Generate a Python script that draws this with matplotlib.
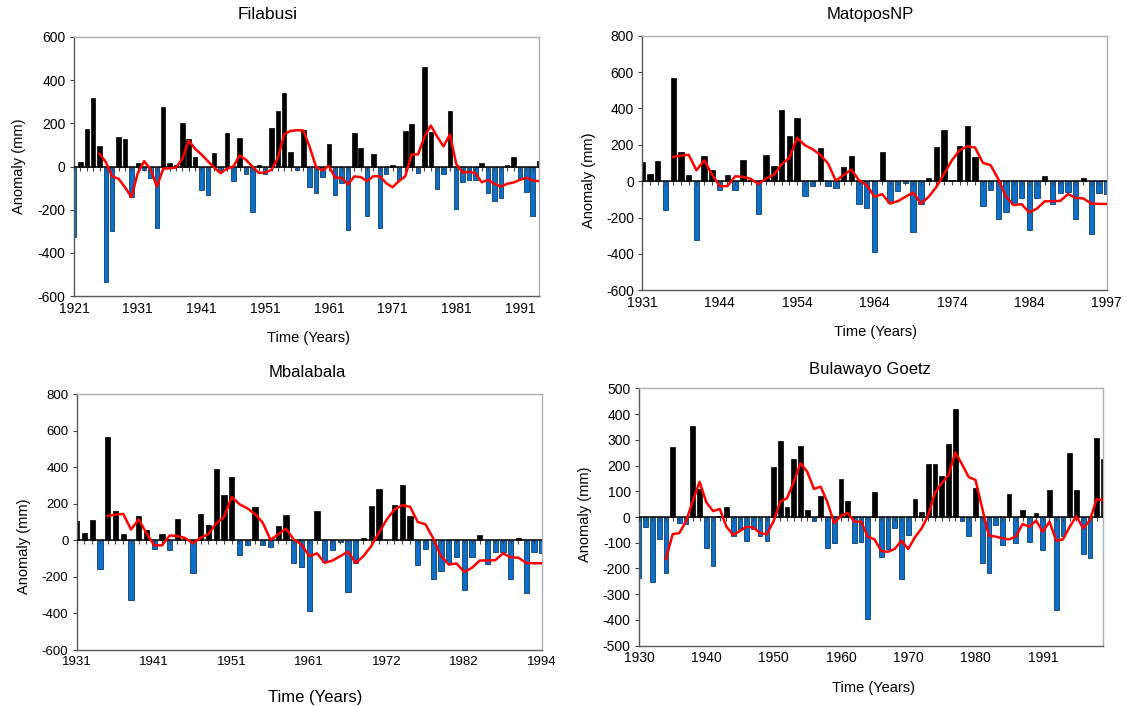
import matplotlib
matplotlib.use("Agg")
import matplotlib.pyplot as plt
import numpy as np

plt.rcParams["font.family"] = ["Liberation Sans", "DejaVu Sans"]
plt.rcParams["axes.unicode_minus"] = False

# ---- Filabusi, 1921-1994 -------------------------------------------------
filabusi_years = list(range(1921, 1995))
filabusi_anom = [
    -327, 22, 174, 318, 93, -536, -298, 137, 128, -139,
    15, -15, -51, -283, 275, 15, 8, 202, 128, 43,
    -110, -131, 63, -20, 153, -68, 133, -36, -210, 8,
    -37, 178, 255, 340, 68, -15, 170, -96, -125, -49,
    105, -133, -76, -293, 157, 85, -230, 60, -287, -36,
    5, -63, 164, 198, -29, 463, 160, -105, -36, 255,
    -195, -74, -63, -63, 15, -124, -162, -148, 5, 43,
    -54, -120, -227, 26,
]
# red smoothed line, read from 1925 onwards
filabusi_smooth = [
    59, 20, -46, -57, -96, -142, -31, 25, -12, -93,
    -10, -8, -5, 35, 120, 82, 56, 25, -5, -31,
    -10, 0, 51, 31, 0, -30, -28, -15, 40, 150,
    165, 168, 167, 90, -3, -18, 3, -52, -52, -83,
    -46, -49, -68, -45, -45, -77, -96, -68, -45, 56,
    56, 136, 190, 139, 93, 148, 12, -28, -25, -31,
    -73, -62, -80, -93, -80, -74, -62, -52, -65, -68,
]
filabusi_labels = ["1921", "1931", "1941", "1951", "1961", "1971", "1981", "1991"]

# ---- MatoposNP (61 categories) -------------------------------------------
matopos_anom = [
    108, 38, 112, -156, 568, 159, 35, -324, 136, 59,
    -46, 35, -51, 119, 8, -181, 143, 82, 390, 247,
    346, -81, -26, 185, -26, -35, 79, 138, -126, -147,
    -388, 163, -117, -55, -9, -280, -123, 15, 187, 282,
    5, 196, 302, 132, -136, -49, -209, -167, -126, -93,
    -271, -93, 31, -128, -64, -62, -209, 15, -290, -64,
    -70,
]
matopos_smooth = [  # from the 5th category onwards
    134, 141, 145, 60, 115, 38,
    -27, -27, 27, 24, 13, -16, 15, 35, 93, 128,
    238, 198, 176, 145, 97, 3, 33, 64, 5, -22,
    -86, -71, -123, -110, -86, -62, -123, -86, -31, 42,
    115, 170, 192, 185, 101, 88, 11, -86, -132, -126,
    -172, -150, -110, -110, -108, -71, -92, -95, -123, -125,
    -125,
]
matopos_labels = ["1931", "1944", "1954", "1964", "1974", "1984", "1997"]

# ---- Mbalabala: same bars and line as MatoposNP in the source figure -------
mbalabala_anom = list(matopos_anom)
mbalabala_smooth = list(matopos_smooth)
mbalabala_labels = ["1931", "1941", "1951", "1961", "1972", "1982", "1994"]

# ---- Bulawayo Goetz (70 categories) ---------------------------------------
bulawayo_anom = [
    -238, -38, -251, -87, -216, 271, -23, -28, 352, 109,
    -122, -189, 5, 40, -73, -50, -92, -47, -74, -92,
    196, 297, 38, 224, 277, 27, -16, 83, -122, -102,
    149, 63, -102, -98, -398, 96, -157, -123, -44, -241,
    -71, 69, 18, 205, 207, 159, 282, 421, -16, -75,
    113, -177, -216, -30, -109, 89, -100, 27, -97, 17,
    -127, 105, -361, -75, 247, 105, -145, -158, 306, 224,
]
bulawayo_smooth = [
    -163, -67, -62, -16, 62, 137,
    57, 23, 31, -38, -70, -54, -38, -41, -63, -67,
    -16, 60, 73, 137, 209, 176, 109, 118, 57, -24,
    5, 16, -18, -18, -76, -87, -132, -135, -124, -92,
    -124, -79, -44, 8, 96, 131, 163, 251, 205, 155,
    144, 34, -73, -76, -83, -87, -76, -27, -38, -14,
    -57, -18, -92, -87, -38, 3, -44, -13, 70, 65,
]
bulawayo_labels = ["1930", "1940", "1950", "1960", "1970", "1980", "1991"]

POS = "#000000"
NEG = "#0f6fc6"
NEG_EDGE = "#0b3e6f"


def panel(fig, rect, vals, smooth, labels, ylim, ystep, tick_fs=10):
    ax = fig.add_axes(rect)
    vals = np.asarray(vals, dtype=float)
    n = len(vals)
    x = np.arange(n)
    start = n - len(smooth)
    pos = vals >= 0
    ax.bar(x[pos], vals[pos], width=0.7, color=POS, edgecolor=POS, lw=0.5, zorder=2)
    ax.bar(x[~pos], vals[~pos], width=0.7, color=NEG, edgecolor=NEG_EDGE, lw=0.6, zorder=2)
    ax.axhline(0, color="black", lw=1.1, zorder=3)
    # little category ticks hanging below the zero line
    h_px = rect[3] * 706
    tl = (ylim[1] - ylim[0]) / h_px * 4
    ax.vlines(x, -tl, 0, color="#404040", lw=0.8, zorder=3)
    ax.plot(x[start:], smooth, color="#ff0000", lw=1.8, zorder=4)
    ax.set_xlim(0, n - 1)
    ax.set_ylim(*ylim)
    ax.set_yticks(np.arange(ylim[0], ylim[1] + 1, ystep))
    ax.set_xticks(np.arange(0, 10 * len(labels), 10))
    ax.set_xticklabels(labels)
    ax.tick_params(axis="x", length=0, pad=4, labelsize=tick_fs)
    ax.tick_params(axis="y", length=3, width=0.8, color="#404040", pad=3, labelsize=tick_fs)
    for s in ("left", "bottom"):
        ax.spines[s].set_color("#5a5a5a")
        ax.spines[s].set_linewidth(1.0)
    for s in ("top", "right"):
        ax.spines[s].set_color("#b0b0b0")
        ax.spines[s].set_linewidth(1.0)
    return ax


fig = plt.figure(figsize=(11.27, 7.06), dpi=100)
fig.patch.set_facecolor("white")

panel(fig, [0.0657, 0.5807, 0.4126, 0.3669], filabusi_anom, filabusi_smooth,
      filabusi_labels, (-600, 600), 200)
panel(fig, [0.5699, 0.5888, 0.4121, 0.3606], matopos_anom, matopos_smooth,
      matopos_labels, (-600, 800), 200)
panel(fig, [0.0681, 0.0793, 0.4126, 0.3622], mbalabala_anom, mbalabala_smooth,
      mbalabala_labels, (-600, 800), 200, tick_fs=9.5)
panel(fig, [0.5670, 0.0854, 0.4120, 0.3646], bulawayo_anom, bulawayo_smooth,
      bulawayo_labels, (-500, 500), 100)

# titles
for tx, ty, t, fs in ((0.2374, 0.979, "Filabusi", 12.5), (0.772, 0.979, "MatoposNP", 12),
                      (0.2724, 0.4717, "Mbalabala", 12), (0.772, 0.476, "Bulawayo Goetz", 12)):
    fig.text(tx, ty, t, ha="center", va="center", fontsize=fs)

# axis labels
for tx, ty in ((0.0169, 0.765), (0.5226, 0.744), (0.0213, 0.2257), (0.519, 0.272)):
    fig.text(tx, ty, "Anomaly (mm)", rotation=90, ha="center", va="center", fontsize=10.5)
for tx, ty, fs in ((0.274, 0.521, 10.5), (0.777, 0.530, 10.5),
                   (0.28, 0.0127, 12), (0.775, 0.0255, 10.5)):
    fig.text(tx, ty, "Time (Years)", ha="center", va="center", fontsize=fs)

fig.savefig("out.png", dpi=100, facecolor="white")
